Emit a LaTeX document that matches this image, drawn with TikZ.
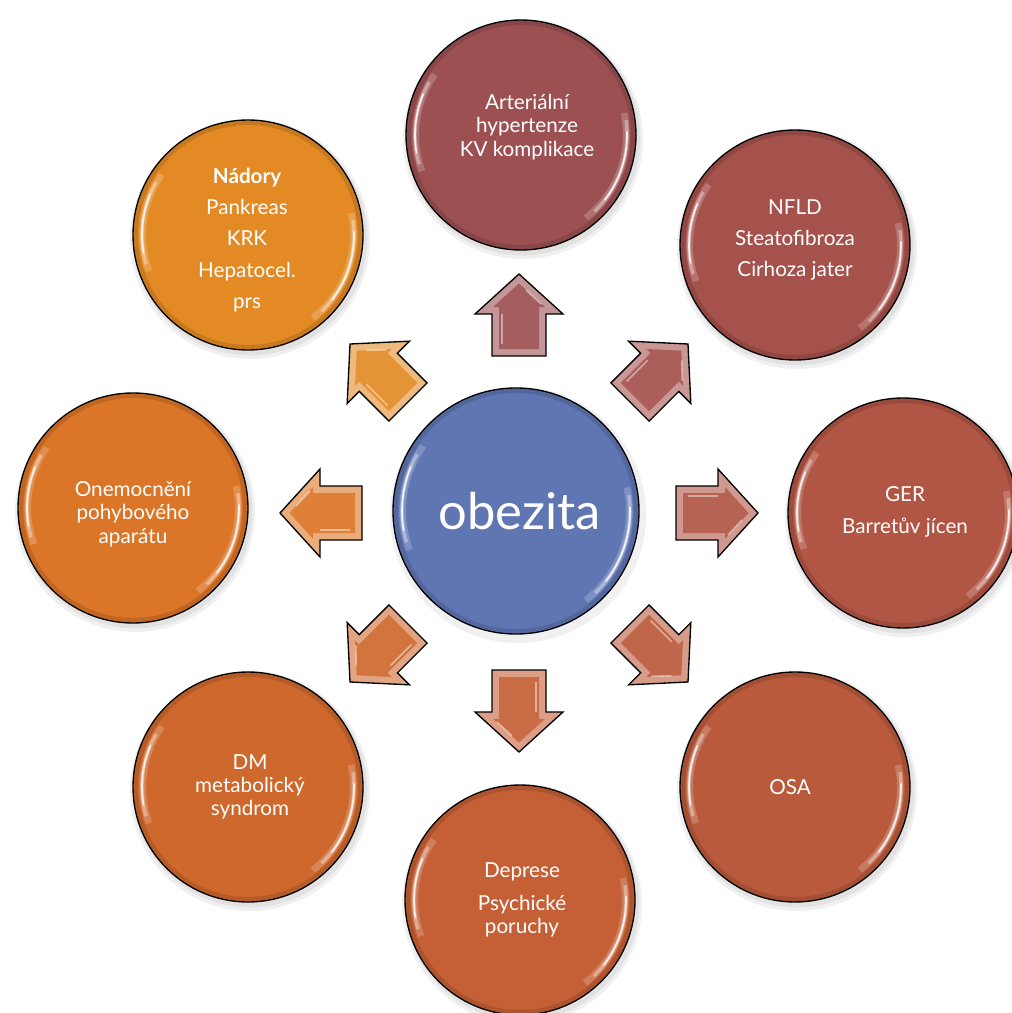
\documentclass[tikz,border=0pt]{standalone}
\usepackage{fontspec}
\setmainfont{Lato}
\definecolor{cO}{HTML}{5F76B3}
\definecolor{cA}{HTML}{9C5052}
\definecolor{cB}{HTML}{A5514C}
\definecolor{cC}{HTML}{B15544}
\definecolor{cD}{HTML}{BA5A3C}
\definecolor{cE}{HTML}{C55F35}
\definecolor{cF}{HTML}{CE682D}
\definecolor{cG}{HTML}{DB7527}
\definecolor{cH}{HTML}{E38A25}
\begin{document}
\begin{tikzpicture}[x=0.75pt,y=-0.75pt,
  bub/.style={circle, draw=black, line width=1pt, fill=#1, minimum size=172.5pt, inner sep=0pt, outer sep=0pt},
  hubstyle/.style={circle, draw=black, line width=1pt, fill=cO, minimum size=184.5pt, inner sep=0pt, outer sep=0pt},
  lbl/.style={text=white, align=center, inner sep=0pt, font=\fontsize{15.5}{17.5}\selectfont},
]
\useasboundingbox (0,0) rectangle (1012,1013);
\coordinate (hub) at (519,513);

% soft shadows
\foreach \p in {(521,135),(795,245),(903,513),(795,787),(520,900),(248,787),(133,508),(248,235)}{
  \fill[black,opacity=.06] \p ++(2,4) circle[radius=90pt];
  \fill[black,opacity=.06] \p ++(2,3) circle[radius=88pt];
}
\fill[black,opacity=.06] (516,511) ++(2,4) circle[radius=96pt];

% circles
\node[bub=cA] (art) at (521,135) {};
\node[bub=cB] (nfld) at (795,245) {};
\node[bub=cC] (ger) at (903,513) {};
\node[bub=cD] (osa) at (795,787) {};
\node[bub=cE] (dep) at (520,900) {};
\node[bub=cF] (dm) at (248,787) {};
\node[bub=cG] (onem) at (133,508) {};
\node[bub=cH] (nad) at (248,235) {};
\node[hubstyle] (ob) at (516,511) {};

% rim shading and gloss
\foreach \n/\r in {art/86,nfld/86,ger/86,osa/86,dep/86,dm/86,onem/86,nad/86,ob/92}{
  \draw[black,opacity=.12,line width=3pt] (\n.center) circle[radius=\r pt - 2pt];
  \draw[white,opacity=.2,line width=5pt] ([shift={(145:\r pt - 7pt)}]\n.center) arc[start angle=145,end angle=200,radius=\r pt - 7pt];
  \draw[white,opacity=.35,line width=2.5pt] ([shift={(150:\r pt - 6.5pt)}]\n.center) arc[start angle=150,end angle=196,radius=\r pt - 6.5pt];
  \draw[white,opacity=.85,line width=1.2pt] ([shift={(157:\r pt - 6.5pt)}]\n.center) arc[start angle=157,end angle=190,radius=\r pt - 6.5pt];
  \draw[white,opacity=.2,line width=5pt] ([shift={(-52:\r pt - 7pt)}]\n.center) arc[start angle=-52,end angle=12,radius=\r pt - 7pt];
  \draw[white,opacity=.35,line width=2.5pt] ([shift={(-46:\r pt - 6.5pt)}]\n.center) arc[start angle=-46,end angle=8,radius=\r pt - 6.5pt];
  \draw[white,opacity=.85,line width=1.2pt] ([shift={(-38:\r pt - 6.5pt)}]\n.center) arc[start angle=-38,end angle=2,radius=\r pt - 6.5pt];
}

% labels
\node[lbl] (artT) at (527,127) {Arteriální\\hypertenze\\KV komplikace};
\node[lbl] (nfldT) at (795,240) {NFLD\\[6pt]Steatofibroza\\[6pt]Cirhoza jater};
\node[lbl] (gerT) at (905,512) {GER\\[6pt]Barretův jícen};
\node[lbl] (osaT) at (790,787) {OSA};
\node[lbl] (depT) at (522,900) {Deprese\\[7pt]Psychické\\poruchy};
\node[lbl] (dmT) at (250,787) {DM\\metabolický\\syndrom};
\node[lbl] (onemT) at (133,514) {Onemocnění\\pohybového\\aparátu};
\node[lbl] (nadT) at (247,240) {\textbf{Nádory}\\[6pt]Pankreas\\[6pt]KRK\\[6pt]Hepatocel.\\[6pt]prs};
\node[text=white, inner sep=0pt, font=\fontsize{38}{42}\selectfont] (obT) at (520,511) {obezita};

% block arrows
\foreach \ang/\col in {90/cA,45/cB,0/cC,-45/cD,-90/cE,-135/cF,180/cG,135/cH}{
  \begin{scope}[shift={(hub)}, rotate=\ang, xshift=117.75pt]
    \fill[\col!60!white] (0,-27) -- (42,-27) -- (42,-44) -- (82,0) -- (42,44) -- (42,27) -- (0,27) -- cycle;
    \fill[\col!92!white] (7,-20) -- (49,-20) -- (49,-26) -- (72.5,0) -- (49,26) -- (49,20) -- (7,20) -- cycle;
    \draw[white,opacity=.45,line width=1.2pt] (12,-17) -- (42,-17);
    \draw[white,opacity=.45,line width=1.2pt] (52,22) -- (66,7);
    \draw[black,line width=1pt,line join=miter] (0,-27) -- (42,-27) -- (42,-44) -- (82,0) -- (42,44) -- (42,27) -- (0,27) -- cycle;
  \end{scope}
}
\end{tikzpicture}
\end{document}
